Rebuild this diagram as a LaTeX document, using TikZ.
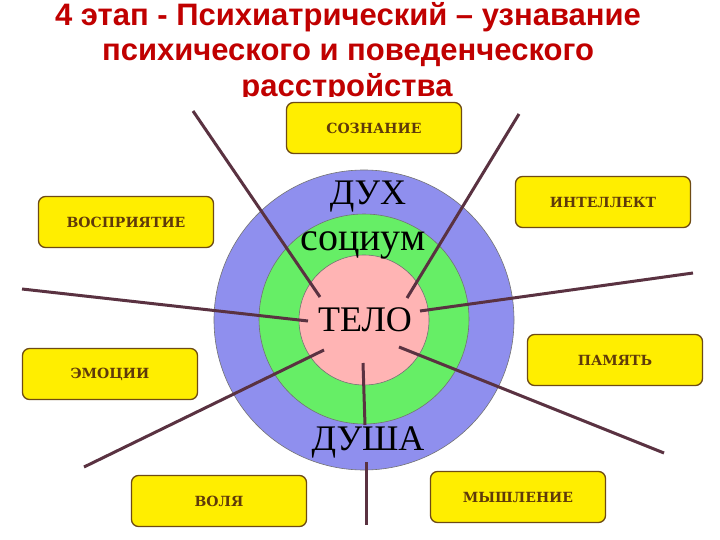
\documentclass[tikz,border=0pt]{standalone}
\usepackage{fontspec}
\setmainfont{Liberation Serif}
\newfontfamily\headfont{Liberation Sans}
\newfontfamily\boxfont{DejaVu Serif}
\usepackage{xcolor}
\usetikzlibrary{positioning}

\definecolor{titlered}{RGB}{192,0,0}
\definecolor{boxyellow}{RGB}{255,238,0}
\definecolor{boxbrown}{RGB}{110,75,20}
\definecolor{textbrown}{RGB}{95,58,10}
\definecolor{spokecol}{RGB}{90,50,65}
\definecolor{spiritblue}{RGB}{143,143,238}
\definecolor{socialgreen}{RGB}{102,238,102}
\definecolor{bodypink}{RGB}{255,180,180}

\begin{document}
\begin{tikzpicture}[
    x=1pt, y=-1pt,
    headline/.style={font=\headfont\bfseries\fontsize{31}{36}\selectfont, text=titlered, anchor=base, inner sep=0pt},
    ring/.style={circle, draw=black!55, line width=0.6pt, inner sep=0pt},
    factor/.style={rectangle, rounded corners=7pt, draw=boxbrown, line width=1.3pt, fill=boxyellow,
        minimum width=175pt, minimum height=51pt, font=\boxfont\bfseries\fontsize{14}{16}\selectfont, text=textbrown},
    layer/.style={font=\fontsize{36}{40}\selectfont, inner sep=0pt},
    spoke/.style={draw=spokecol, line width=3pt}
]
    \useasboundingbox (0,0) rectangle (720,540);

    % title, last line cut by the picture below
    \node[headline] (head1) at (348,26) {4 этап - Психиатрический – узнавание};
    \node[headline] (head2) at (348,61) {психического и поведенческого};
    \node[headline] (head3) at (347,97) {расстройства};
    \fill[white] (0,97) rectangle (720,540);

    % rings
    \node[ring, fill=spiritblue, minimum size=300pt] (spirit) at (364,320) {};
    \node[ring, fill=socialgreen, minimum size=210pt] (social) at (364,319) {};
    \node[ring, fill=bodypink, minimum size=130pt] (body) at (364,320) {};

    % spokes
    \coordinate (s1) at (193,111);  \coordinate (t1) at (320,297);
    \coordinate (s2) at (519,114);  \coordinate (t2) at (407,298);
    \coordinate (s3) at (693,273);  \coordinate (t3) at (420,311);
    \coordinate (s4) at (22,289);   \coordinate (t4) at (308,321);
    \coordinate (s5) at (664,453);  \coordinate (t5) at (399,347);
    \coordinate (s6) at (84,467);   \coordinate (t6) at (324,350);
    \coordinate (s7) at (366,525);  \coordinate (t7) at (363,363);
    \coordinate (d7a) at (365,425); \coordinate (d7b) at (366,462);

    \draw[spoke] (s1) -- (t1);
    \draw[spoke] (s2) -- (t2);
    \draw[spoke] (s3) -- (t3);
    \draw[spoke] (s4) -- (t4);
    \draw[spoke] (s5) -- (t5);
    \draw[spoke] (s6) -- (t6);
    \draw[spoke] (t7) -- (d7a);
    \draw[spoke] (d7b) -- (s7);

    % ring labels
    \node[layer] (dukh) at (368,197) {ДУХ};
    \node[layer, font=\fontsize{40}{44}\selectfont] (socium) at (363,245) {социум};
    \node[layer] (telo) at (365,320) {ТЕЛО};
    \node[layer] (dusha) at (368,442) {ДУША};

    % factors
    \node[factor] (consc) at (374,128) {СОЗНАНИЕ};
    \node[factor] (percept) at (126,222) {ВОСПРИЯТИЕ};
    \node[factor] (intel) at (603,202) {ИНТЕЛЛЕКТ};
    \node[factor] (emot) at (110,374) {ЭМОЦИИ};
    \node[factor] (memory) at (615,360) {ПАМЯТЬ};
    \node[factor] (will) at (219,501) {ВОЛЯ};
    \node[factor] (think) at (518,497) {МЫШЛЕНИЕ};
\end{tikzpicture}
\end{document}
